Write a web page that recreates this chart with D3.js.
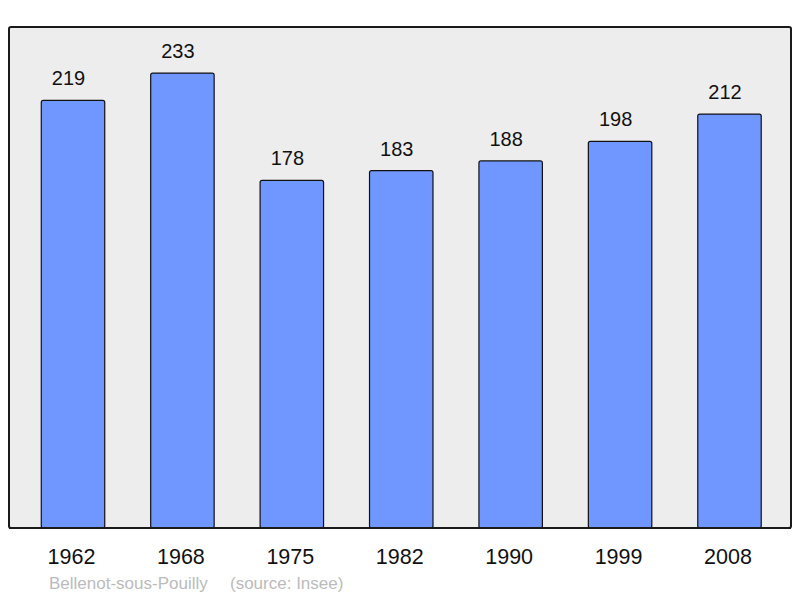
<!DOCTYPE html>
<html><head><meta charset="utf-8">
<script src="https://cdn.jsdelivr.net/npm/d3@7"></script>
<style>body{margin:0;background:#fff;}svg{display:block;font-family:"Liberation Sans",Arial,sans-serif;}</style>
</head><body>
<script>
const years = ["1962","1968","1975","1982","1990","1999","2008"];
const population = [219,233,178,183,188,198,212];
const commune = "Bellenot-sous-Pouilly";
const source = "(source: Insee)";

const W=800,H=598;
const svg=d3.select("body").append("svg").attr("width",W).attr("height",H);
const plot={l:9,t:27,r:791,b:528};
svg.append("rect").attr("x",plot.l).attr("y",plot.t).attr("width",plot.r-plot.l).attr("height",plot.b-plot.t)
  .attr("rx",2).attr("fill","#ededed").attr("stroke","#1a1a1a").attr("stroke-width",2);

const x=d3.scaleBand().domain(years).range([18.3,784.2]).paddingInner(0.42).paddingOuter(0.21);
const y=d3.scaleLinear().domain([0,256.6]).range([plot.b,plot.t]);

svg.selectAll("rect.bar").data(population).join("rect").attr("class","bar")
  .attr("x",(d,i)=>x(years[i])).attr("y",d=>y(d)).attr("width",x.bandwidth()).attr("height",d=>plot.b-y(d))
  .attr("rx",2).attr("fill","#7097ff").attr("stroke","#111").attr("stroke-width",1.2);

svg.selectAll("text.val").data(population).join("text").attr("class","val")
  .attr("x",(d,i)=>x(years[i])+x.bandwidth()/2-4.5).attr("y",d=>y(d)-15)
  .attr("text-anchor","middle").attr("font-size",20).attr("fill","#111").text(d=>d);

svg.append("line").attr("x1",plot.l).attr("x2",plot.r).attr("y1",plot.b).attr("y2",plot.b).attr("stroke","#1a1a1a").attr("stroke-width",2);

const ax=svg.append("g").attr("transform",`translate(0,${plot.b})`).call(d3.axisBottom(x).tickSize(0).tickPadding(0));
ax.select(".domain").remove();
ax.selectAll("text").attr("x",-1.5).attr("y",36).attr("dy",0).attr("font-size",21.5).attr("fill","#111").attr("font-family","Liberation Sans, Arial, sans-serif");

svg.append("text").attr("x",49).attr("y",589).attr("font-size",17).attr("fill","#bbbbbb").text(commune);
svg.append("text").attr("x",230).attr("y",589).attr("font-size",17).attr("fill","#bbbbbb").text(source);
</script>
</body></html>
